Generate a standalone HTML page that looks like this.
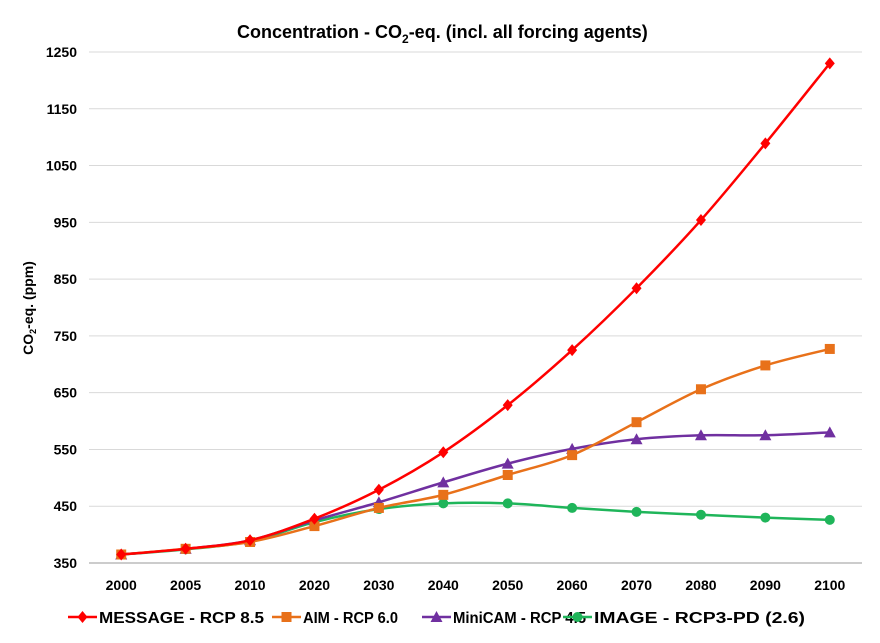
<!DOCTYPE html>
<html><head><meta charset="utf-8"><style>
body{margin:0;background:#fff;font-family:"Liberation Sans",sans-serif}
text{font-family:"Liberation Sans",sans-serif;font-weight:bold}
</style></head><body>
<svg id="chart" width="880" height="638" xmlns="http://www.w3.org/2000/svg">
<rect width="880" height="638" fill="#fff"/>
<text x="237" y="38" font-size="18">Concentration - CO<tspan font-size="12" dy="5">2</tspan><tspan dy="-5">-eq. (incl. all forcing agents)</tspan></text>
<text transform="translate(33,308) rotate(-90)" text-anchor="middle" font-size="14">CO<tspan font-size="9" dy="3">2</tspan><tspan dy="-3">-eq. (ppm)</tspan></text>
<g id="grid"></g><g id="series"></g><g id="legend"></g>
</svg>
<script>
const categories=["2000","2005","2010","2020","2030","2040","2050","2060","2070","2080","2090","2100"];
const yTicks=[350,450,550,650,750,850,950,1050,1150,1250];
const messageVals=[365,375,390,428,479,545,628,725,834,954,1089,1230];
const aimVals=[365,375,387,415,447,470,505,540,598,656,698,727];
const minicamVals=[365,375,390,425,457,492,525,551,568,575,575,580];
const imageVals=[365,374,388,422,445,455,455,447,440,435,430,426];
const seriesNames=["MESSAGE - RCP 8.5","AIM - RCP 6.0","MiniCAM - RCP 4.5","IMAGE - RCP3-PD (2.6)"];
const NS="http://www.w3.org/2000/svg";
const L=89,R=862,T=52,B=563;
const step=(R-L)/categories.length;
const x=i=>L+step*(i+0.5);
const y=v=>B-(v-350)/900*(B-T);
function mk(tag,attrs,parent){const e=document.createElementNS(NS,tag);for(const k in attrs)e.setAttribute(k,attrs[k]);parent.appendChild(e);return e;}
const grid=document.getElementById('grid');
yTicks.forEach(v=>{
  const ln=mk('line',{x1:L,x2:R,y1:y(v),y2:y(v),stroke:v===350?'#bbb':'#d9d9d9','stroke-width':v===350?1.5:1},grid);
  
  
  const t=mk('text',{x:77,y:y(v)+5,'text-anchor':'end','font-size':14},grid);
  t.textContent=v;
  
  
});
categories.forEach((c,i)=>{
  const t=mk('text',{x:x(i),y:590,'text-anchor':'middle','font-size':14},grid);
  t.textContent=c;
  
  
});
const colors=["#ff0000","#e8711a","#7030a0","#1fb55a"];
const shapes=["diamond","square","triangle","circle"];
const allVals=[messageVals,aimVals,minicamVals,imageVals];
function marker(shape,cx,cy,col,g){
  if(shape==="diamond")return mk('polygon',{points:`${cx},${cy-6} ${cx+5},${cy} ${cx},${cy+6} ${cx-5},${cy}`,fill:col},g);
  if(shape==="square")return mk('rect',{x:cx-5,y:cy-5,width:10,height:10,fill:col},g);
  if(shape==="triangle")return mk('polygon',{points:`${cx},${cy-6} ${cx+6},${cy+5} ${cx-6},${cy+5}`,fill:col},g);
  return mk('circle',{cx:cx,cy:cy,r:5,fill:col},g);
}
function smooth(pts){
  let d=`M${pts[0][0]},${pts[0][1]}`;
  for(let i=0;i<pts.length-1;i++){
    const p0=pts[Math.max(0,i-1)],p1=pts[i],p2=pts[i+1],p3=pts[Math.min(pts.length-1,i+2)];
    const c1=[p1[0]+(p2[0]-p0[0])/6,p1[1]+(p2[1]-p0[1])/6];
    const c2=[p2[0]-(p3[0]-p1[0])/6,p2[1]-(p3[1]-p1[1])/6];
    d+=` C${c1[0]},${c1[1]} ${c2[0]},${c2[1]} ${p2[0]},${p2[1]}`;
  }
  return d;
}
const sg=document.getElementById('series');
[3,2,1,0].forEach(s=>{
  const g=mk('g',{},sg);
  
  
  const pts=allVals[s].map((v,i)=>[x(i),y(v)]);
  const p=mk('path',{d:smooth(pts),fill:'none',stroke:colors[s],'stroke-width':2.5},g);
  
  
  pts.forEach((pt,i)=>{
    const m=marker(shapes[s],pt[0],pt[1],colors[s],g);
    
    
  });
});
const lg=document.getElementById('legend');
const lx=[68,272,422,563];
const lw=[165,95,133,211];
seriesNames.forEach((n,s)=>{
  const g=mk('g',{},lg);
  
  
  mk('line',{x1:lx[s],x2:lx[s]+29,y1:617,y2:617,stroke:colors[s],'stroke-width':2.5},g);
  marker(shapes[s],lx[s]+14.5,617,colors[s],g);
  const t=mk('text',{x:lx[s]+31,y:623,'font-size':16,textLength:lw[s],lengthAdjust:'spacingAndGlyphs'},g);
  t.textContent=n;
});
</script>
</body></html>
